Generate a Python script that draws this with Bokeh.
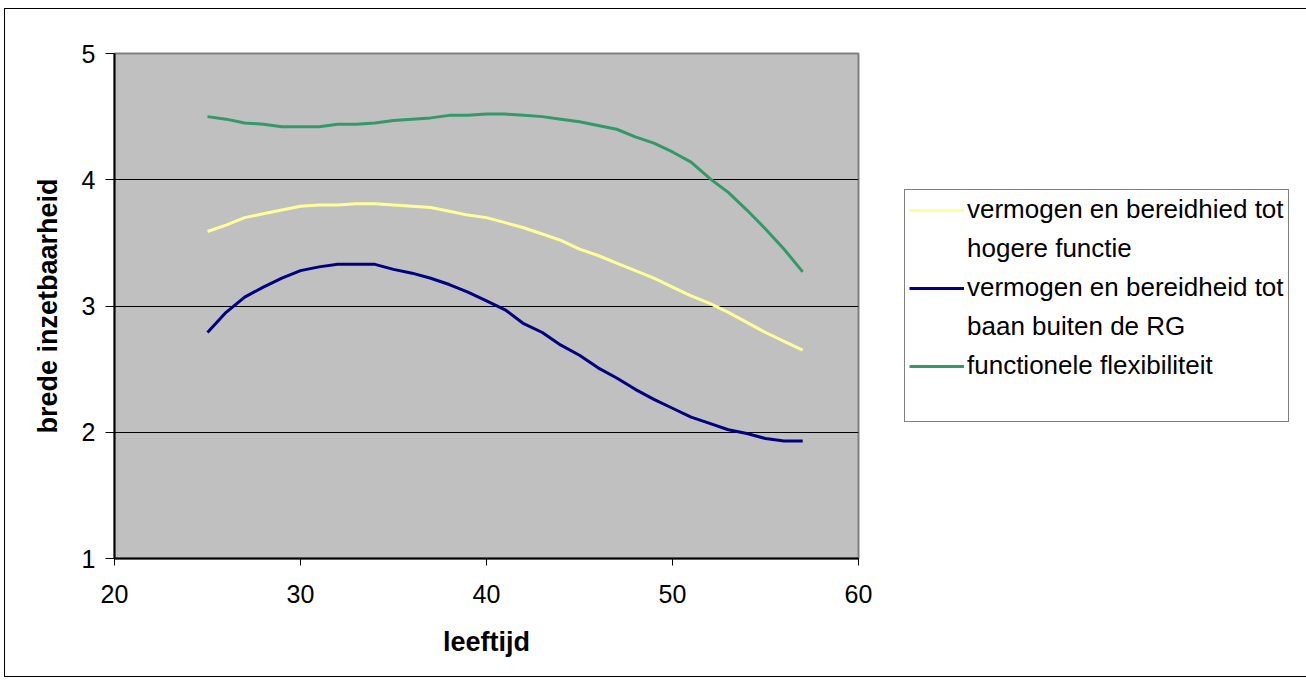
from bokeh.plotting import figure
from bokeh.models import Legend, LegendItem, FixedTicker, Range1d
from bokeh.embed import file_html
from bokeh.resources import INLINE

# Age (leeftijd) and the three scale scores
ages = list(range(25, 58))

hogere_functie = [3.59, 3.64, 3.70, 3.73, 3.76, 3.79, 3.80, 3.80, 3.81, 3.81,
                  3.80, 3.79, 3.78, 3.75, 3.72, 3.70, 3.66, 3.62, 3.57, 3.52,
                  3.45, 3.40, 3.34, 3.28, 3.22, 3.15, 3.08, 3.02, 2.95, 2.87,
                  2.79, 2.72, 2.65]

baan_buiten_rg = [2.79, 2.95, 3.07, 3.15, 3.22, 3.28, 3.31, 3.33, 3.33, 3.33,
                  3.29, 3.26, 3.22, 3.17, 3.11, 3.04, 2.97, 2.86, 2.79, 2.69,
                  2.61, 2.51, 2.43, 2.34, 2.26, 2.19, 2.12, 2.07, 2.02, 1.99,
                  1.95, 1.93, 1.93]

flexibiliteit = [4.50, 4.48, 4.45, 4.44, 4.42, 4.42, 4.42, 4.44, 4.44, 4.45,
                 4.47, 4.48, 4.49, 4.51, 4.51, 4.52, 4.52, 4.51, 4.50, 4.48,
                 4.46, 4.43, 4.40, 4.34, 4.29, 4.22, 4.14, 4.01, 3.90, 3.76,
                 3.61, 3.45, 3.27]

# legend labels, one list of text lines per series
series_labels = [["vermogen en bereidhied tot", "hogere functie"],
                 ["vermogen en bereidheid tot", "baan buiten de RG"],
                 ["functionele flexibiliteit"]]
series_colors = ["#FFFF99", "#000080", "#339966"]

x_ticks = [20, 30, 40, 50, 60]
y_ticks = [1, 2, 3, 4, 5]

FONT = "Liberation Sans"

# the chart sits inside a thin black frame drawn by the element's own border
p = figure(width=1296, height=667, frame_width=744, frame_height=505,
           output_backend="svg", toolbar_location=None,
           x_range=Range1d(20, 60), y_range=Range1d(1, 5),
           min_border_left=109, min_border_right=0,
           min_border_top=44, min_border_bottom=118)
p.styles = {"border": "1px solid black", "margin-left": "4px",
            "margin-top": "8px"}

p.background_fill_color = "#C0C0C0"
p.border_fill_color = "white"
p.outline_line_color = "#808080"
p.outline_line_width = 2

# axes
p.xaxis.ticker = FixedTicker(ticks=x_ticks)
p.yaxis.ticker = FixedTicker(ticks=y_ticks)
for ax in (p.xaxis[0], p.yaxis[0]):
    ax.axis_line_color = "black"
    ax.axis_line_width = 2
    ax.major_tick_line_color = "black"
    ax.major_tick_in = 0
    ax.minor_tick_line_color = None
    ax.major_label_text_font = FONT
    ax.major_label_text_font_size = "25px"
    ax.major_label_text_color = "black"
    ax.axis_label_text_font = FONT
    ax.axis_label_text_font_size = "27px"
    ax.axis_label_text_font_style = "bold"
    ax.axis_label_text_color = "black"
p.xaxis.major_tick_out = 7
p.yaxis.major_tick_out = 9
p.xaxis.major_label_standoff = 19
p.yaxis.major_label_standoff = 10
p.xaxis.axis_label = "leeftijd"
p.yaxis.axis_label = "brede inzetbaarheid"
p.xaxis.axis_label_standoff = 21
p.yaxis.axis_label_standoff = 16

p.xgrid.grid_line_color = None
p.ygrid.grid_line_color = "black"
p.ygrid.grid_line_width = 1

# series; continuation lines of a label get a row without a glyph
items = []
for vals, lines, color in zip([hogere_functie, baan_buiten_rg, flexibiliteit],
                              series_labels, series_colors):
    r = p.line(ages, vals, line_color=color, line_width=3)
    items.append(LegendItem(label=lines[0], renderers=[r]))
    for extra in lines[1:]:
        blank = p.line([ages[0]], [vals[0]], line_alpha=0)
        items.append(LegendItem(label=extra, renderers=[blank]))

# empty closing row keeps some white space at the foot of the legend box
spacer = p.line([ages[0]], [flexibiliteit[0]], line_alpha=0)
items.append(LegendItem(label=" ", renderers=[spacer]))

legend = Legend(items=items, location=(46, 136),
                border_line_color="black", border_line_width=1,
                background_fill_color="white",
                label_text_font=FONT, label_text_font_size="26px",
                label_text_color="black", label_height=28,
                glyph_width=55, glyph_height=20, label_standoff=3,
                padding=4, spacing=8, margin=0)
p.add_layout(legend, "right")

open("out.html", "w").write(file_html(p, INLINE))
